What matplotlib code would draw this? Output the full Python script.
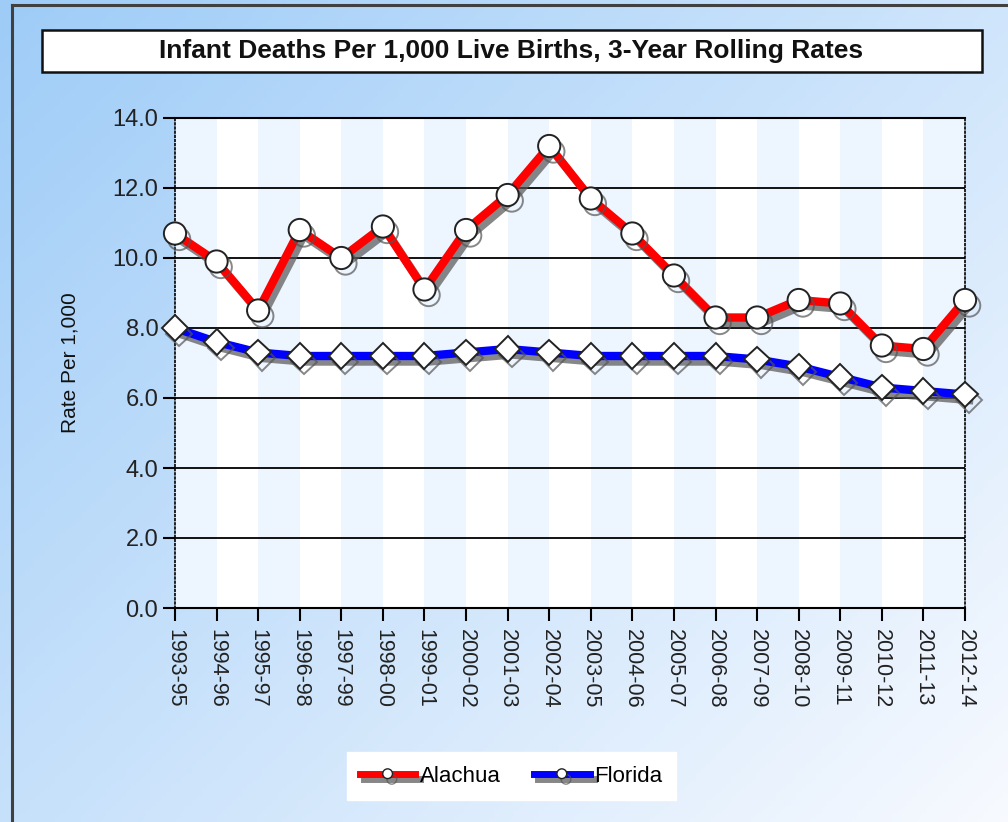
import numpy as np
import matplotlib.pyplot as plt
import matplotlib.patheffects as pe
from matplotlib.lines import Line2D
from matplotlib.patches import Rectangle

plt.rcParams['font.family'] = ['Liberation Sans', 'DejaVu Sans']

periods = ['1993-95', '1994-96', '1995-97', '1996-98', '1997-99', '1998-00',
           '1999-01', '2000-02', '2001-03', '2002-04', '2003-05', '2004-06',
           '2005-07', '2006-08', '2007-09', '2008-10', '2009-11', '2010-12',
           '2011-13', '2012-14']
alachua = [10.7, 9.9, 8.5, 10.8, 10.0, 10.9, 9.1, 10.8, 11.8, 13.2,
           11.7, 10.7, 9.5, 8.3, 8.3, 8.8, 8.7, 7.5, 7.4, 8.8]
florida = [8.0, 7.6, 7.3, 7.2, 7.2, 7.2, 7.2, 7.3, 7.4, 7.3,
           7.2, 7.2, 7.2, 7.2, 7.1, 6.9, 6.6, 6.3, 6.2, 6.1]
y_ticks = [0, 2, 4, 6, 8, 10, 12, 14]

fig = plt.figure(figsize=(10.08, 8.22), dpi=100)

# background gradient
bg = fig.add_axes([0, 0, 1, 1], zorder=-10)
yy, xx = np.mgrid[0:1:200j, 0:1:200j]
t = np.clip((xx * 0.55 + yy * 0.45), 0, 1)
c0 = np.array([0.62, 0.80, 0.97])
c1 = np.array([0.97, 0.98, 1.0])
img = c0[None, None, :] * (1 - t[..., None]) + c1[None, None, :] * t[..., None]
bg.imshow(img, aspect='auto', extent=[0, 1, 0, 1], origin='upper')
bg.axis('off')

# outer frame (left and top edges)
fig.add_artist(Line2D([12 / 1008, 12 / 1008], [0, 1 - 5 / 822], color='#404040', lw=2.2,
                      transform=fig.transFigure))
fig.add_artist(Line2D([12 / 1008, 1], [1 - 5 / 822, 1 - 5 / 822], color='#404040', lw=2.2,
                      transform=fig.transFigure))

# title box
fig.add_artist(Rectangle((42 / 1008, 1 - 72 / 822), 940 / 1008, 42 / 822,
                         facecolor='white', edgecolor='#111111', lw=1.8,
                         transform=fig.transFigure))
fig.text(511 / 1008, 1 - 51 / 822, 'Infant Deaths Per 1,000 Live Births, 3-Year Rolling Rates',
         ha='center', va='center', fontsize=19, fontweight='bold', color='#111111')

ax = fig.add_axes([175 / 1008, 1 - 608 / 822, 790 / 1008, 490 / 822])
ax.set_facecolor('white')
x = np.arange(len(periods))

for i in range(0, len(periods) - 1, 2):
    ax.axvspan(i, i + 1, color='#edf5fe', zorder=0, lw=0)

for v in y_ticks[1:-1]:
    ax.axhline(v, color='black', lw=1.3, zorder=1)

shadow = [pe.SimpleLineShadow(offset=(3, -4), shadow_color='#555555', alpha=0.7), pe.Normal()]

ax.plot(x, alachua, color='#ff0000', lw=6, marker='o', markersize=16,
        markerfacecolor='white', markeredgecolor='#222222', markeredgewidth=1.4,
        clip_on=False, zorder=4, path_effects=shadow)
ax.plot(x, florida, color='#0000ff', lw=6, marker='D', markersize=13,
        markerfacecolor='white', markeredgecolor='#222222', markeredgewidth=1.4,
        clip_on=False, zorder=3, path_effects=shadow)

ax.set_xlim(0, len(periods) - 1)
ax.set_ylim(0, 14)
ax.set_yticks(y_ticks)
ax.set_yticklabels(['%.1f' % v for v in y_ticks], fontsize=17, color='#222222')
ax.set_xticks(x)
ax.set_xticklabels(periods, rotation=270, fontsize=15.5, color='#222222')
ax.tick_params(axis='both', direction='out', length=9, width=1.5, color='black', pad=3)
ax.tick_params(axis='x', pad=6)

ax.spines['left'].set_linestyle((0, (1, 1.5)))
ax.spines['right'].set_linestyle((0, (1, 1.5)))
ax.spines['left'].set_linewidth(1.2)
ax.spines['right'].set_linewidth(1.2)
ax.spines['top'].set_linewidth(1.5)
ax.spines['bottom'].set_linewidth(1.5)

ax.set_ylabel('Rate Per 1,000', fontsize=15, color='#111111', labelpad=24)

# legend
h1 = Line2D([], [], color='#ff0000', lw=5, marker='o', markersize=7,
            markerfacecolor='white', markeredgecolor='#222222', path_effects=shadow)
h2 = Line2D([], [], color='#0000ff', lw=5, marker='o', markersize=7,
            markerfacecolor='white', markeredgecolor='#222222', path_effects=shadow)
leg = fig.legend([h1, h2], ['Alachua', 'Florida'], loc='center',
                 bbox_to_anchor=(511 / 1008, 1 - 776 / 822), ncol=2, fontsize=16,
                 frameon=True, fancybox=False, handlelength=2.5, columnspacing=1.5,
                 borderpad=0.6, handletextpad=0.2)
leg.get_frame().set_edgecolor('white')
leg.get_frame().set_facecolor('white')
leg.get_frame().set_alpha(1)

fig.savefig('out.png', dpi=100)
